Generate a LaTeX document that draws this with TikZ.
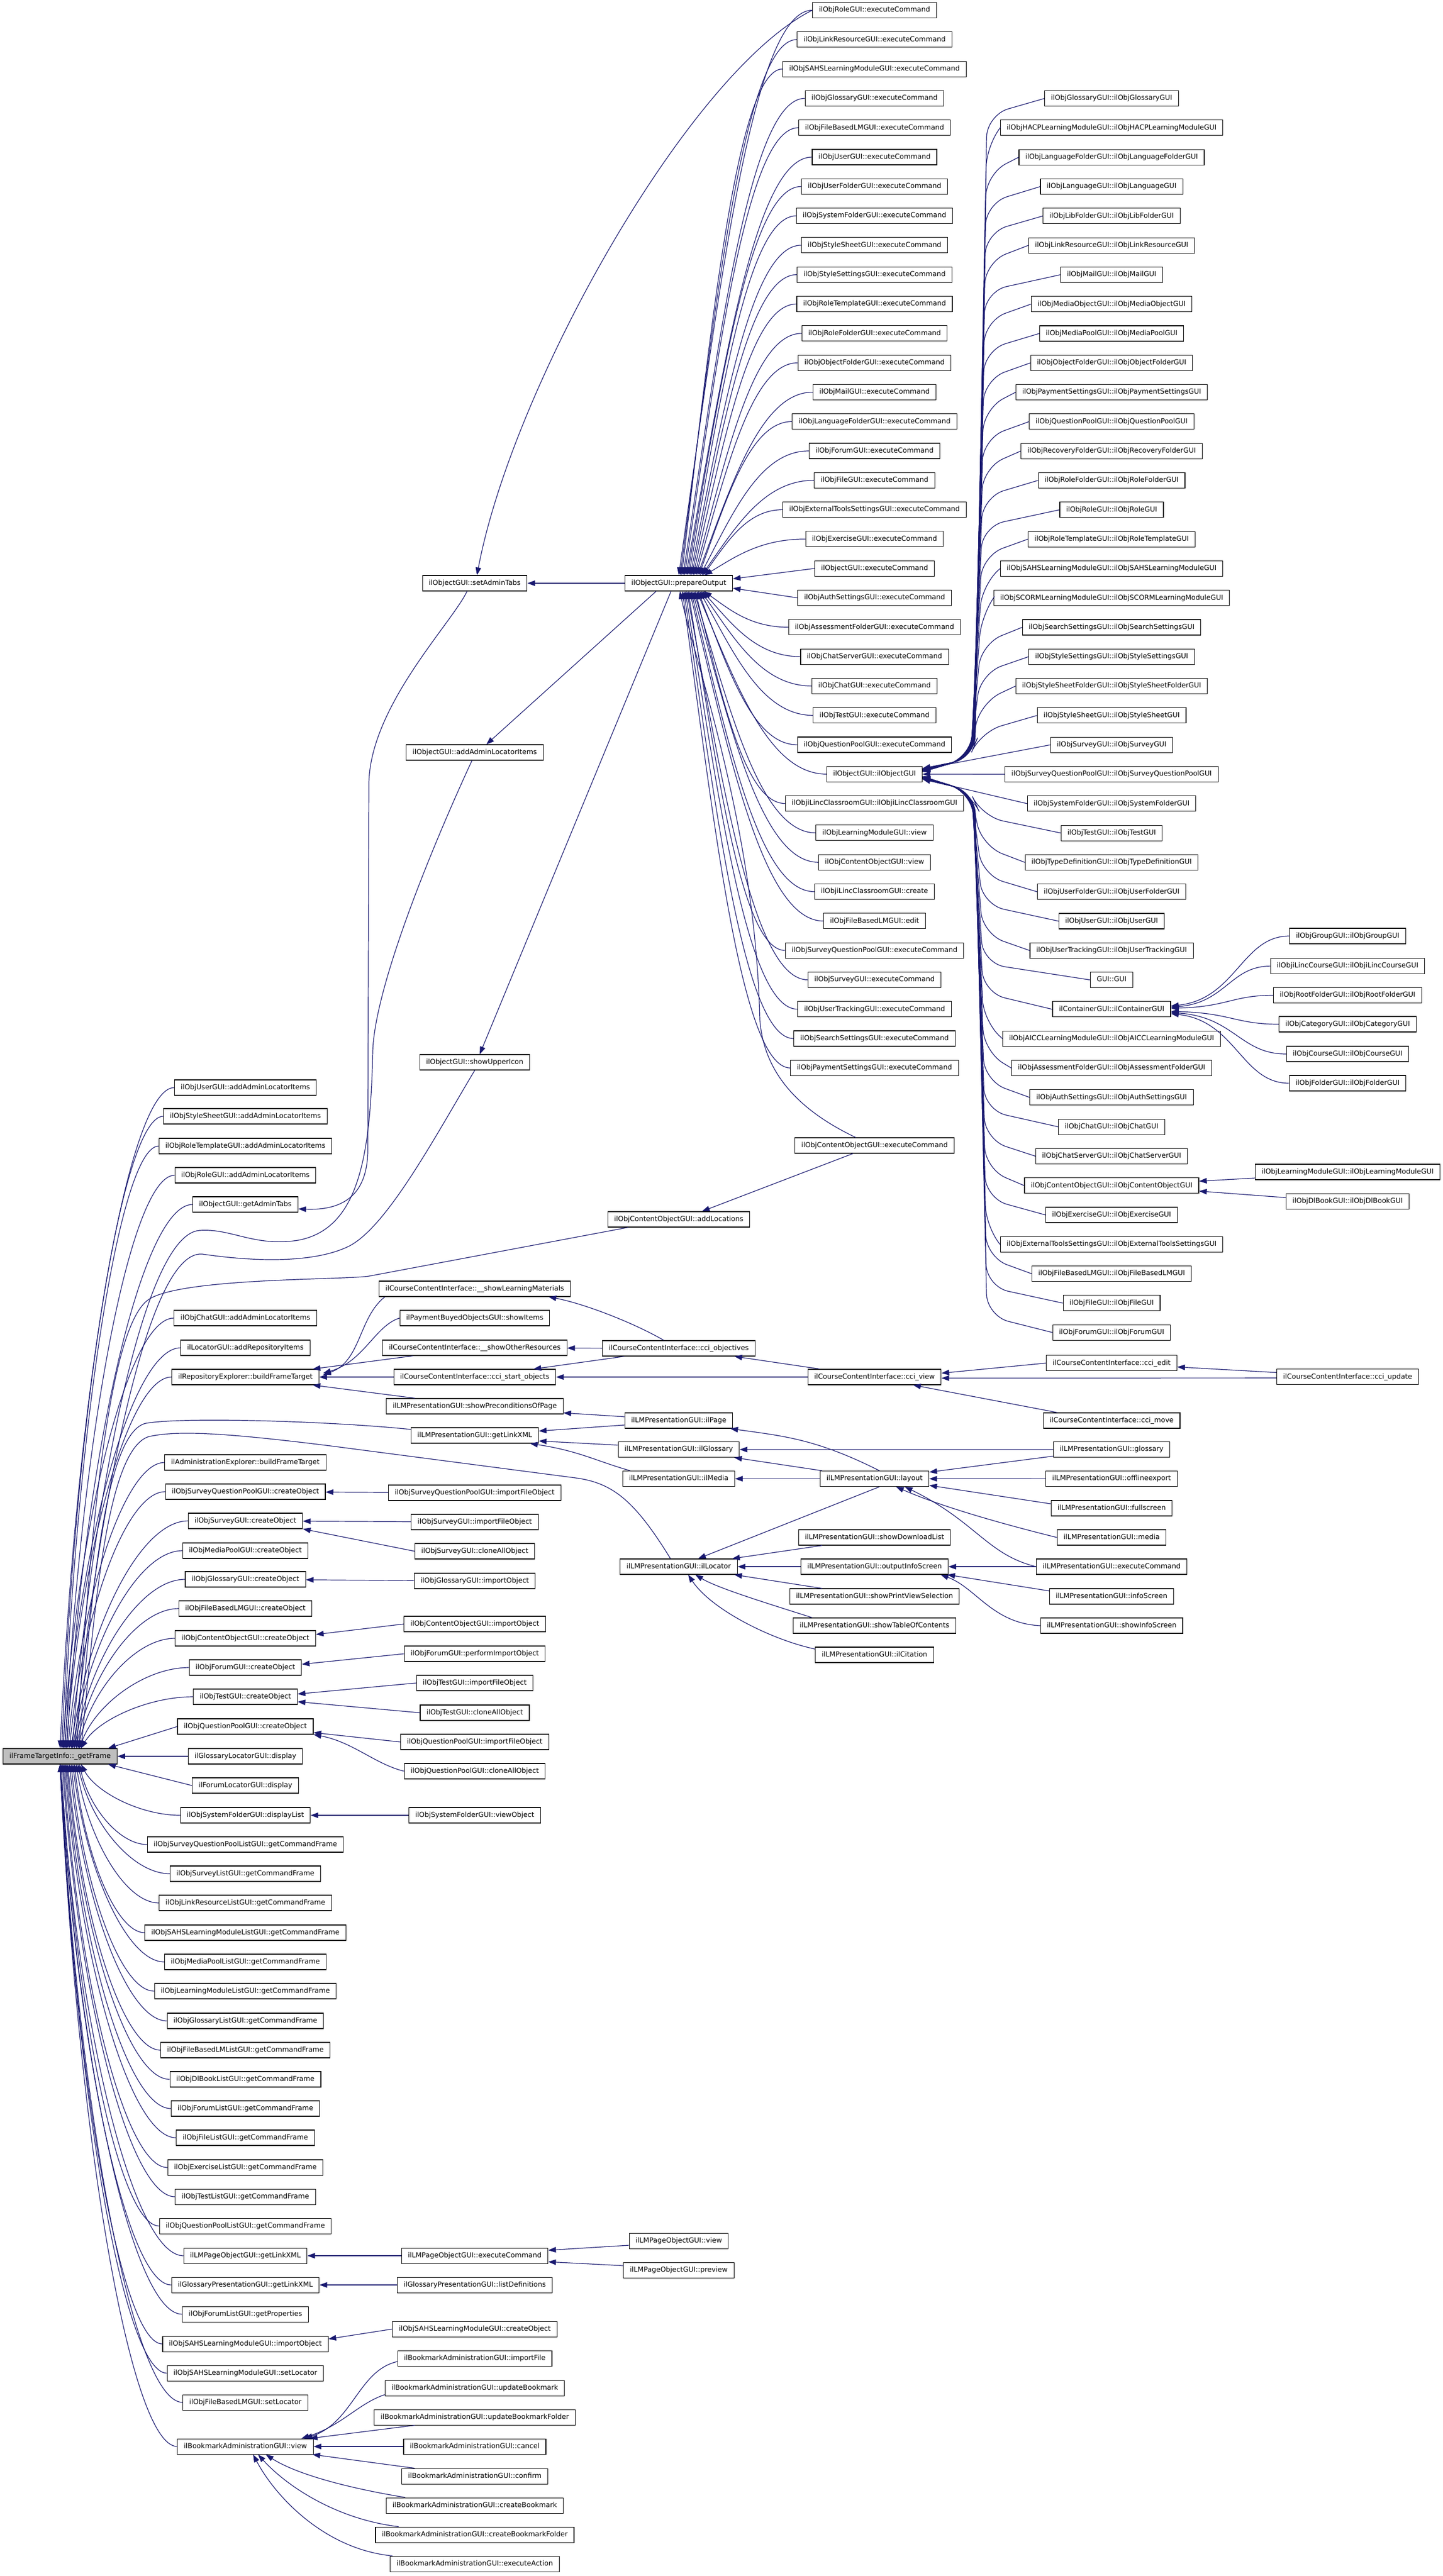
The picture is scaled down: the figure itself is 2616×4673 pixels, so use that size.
\documentclass[tikz,border=0pt]{standalone}
\usepackage{fontspec}
\setmainfont{DejaVu Sans}
\usetikzlibrary{arrows.meta,calc}
\definecolor{callblue}{HTML}{191970}
\tikzset{
  fnbox/.style={draw=black, line width=1.1pt, fill=white, font=\fontsize{12.6}{15}\selectfont,
    inner xsep=11.5pt, inner ysep=0pt, minimum height=28pt, text height=9.6pt, text depth=3pt},
  rootbox/.style={fnbox, fill=black!25},
  callline/.style={draw=callblue, line width=1.2pt, -{Triangle[length=14pt,width=10pt]}},
}
% caller.west -> point, leaves to the left, then bends onto the target
\newcommand{\calledge}[5]{%
  \draw[callline] let \p1=(#1.west), \p2=(#2) in
    (\p1) .. controls ({\x1-#3*(\x1-\x2)},\y1) and ({\x2+#4*(\x1-\x2)},{\y2+#5*(\y1-\y2)}) .. (\p2);}

\begin{document}
\begin{tikzpicture}[x=1pt, y=-1pt]
\fill[white] (0,0) rectangle (2616,4673);
\useasboundingbox (0,0) rectangle (2616,4673);

% the function itself
\node[rootbox] (gf) at (109,3186) {ilFrameTargetInfo::\_getFrame};

% direct callers
\foreach \n/\y/\t in {c1a/1973/ilObjUserGUI::addAdminLocatorItems,
  c1b/2025/ilObjStyleSheetGUI::addAdminLocatorItems,
  c1c/2079/ilObjRoleTemplateGUI::addAdminLocatorItems,
  c1d/2132/ilObjRoleGUI::addAdminLocatorItems,
  gat/2185/ilObjectGUI::getAdminTabs,
  c1e/2391/ilObjChatGUI::addAdminLocatorItems,
  lri/2445/ilLocatorGUI::addRepositoryItems,
  rebft/2498/ilRepositoryExplorer::buildFrameTarget,
  aebft/2653/ilAdministrationExplorer::buildFrameTarget,
  sqpco/2706/ilObjSurveyQuestionPoolGUI::createObject,
  svco/2759/ilObjSurveyGUI::createObject,
  mpco/2813/ilObjMediaPoolGUI::createObject,
  glco/2865/ilObjGlossaryGUI::createObject,
  fbco/2918/ilObjFileBasedLMGUI::createObject,
  coco/2972/ilObjContentObjectGUI::createObject,
  foco/3025/ilObjForumGUI::createObject,
  teco/3078/ilObjTestGUI::createObject,
  qpco/3132/ilObjQuestionPoolGUI::createObject,
  gldisp/3186/ilGlossaryLocatorGUI::display,
  fodisp/3239/ilForumLocatorGUI::display,
  sfdl/3293/ilObjSystemFolderGUI::displayList,
  cfsqp/3346/ilObjSurveyQuestionPoolListGUI::getCommandFrame,
  cfsv/3399/ilObjSurveyListGUI::getCommandFrame,
  cflr/3452/ilObjLinkResourceListGUI::getCommandFrame,
  cfsahs/3506/ilObjSAHSLearningModuleListGUI::getCommandFrame,
  cfmp/3559/ilObjMediaPoolListGUI::getCommandFrame,
  cflm/3612/ilObjLearningModuleListGUI::getCommandFrame,
  cfgl/3666/ilObjGlossaryListGUI::getCommandFrame,
  cffb/3719/ilObjFileBasedLMListGUI::getCommandFrame,
  cfdl/3772/ilObjDlBookListGUI::getCommandFrame,
  cffo/3825/ilObjForumListGUI::getCommandFrame,
  cffi/3878/ilObjFileListGUI::getCommandFrame,
  cfex/3932/ilObjExerciseListGUI::getCommandFrame,
  cfte/3985/ilObjTestListGUI::getCommandFrame,
  cfqp/4038/ilObjQuestionPoolListGUI::getCommandFrame,
  pglx/4092/ilLMPageObjectGUI::getLinkXML,
  gplx/4145/ilGlossaryPresentationGUI::getLinkXML,
  folp/4198/ilObjForumListGUI::getProperties,
  sahsio/4252/ilObjSAHSLearningModuleGUI::importObject,
  sahssl/4305/ilObjSAHSLearningModuleGUI::setLocator,
  fbsl/4358/ilObjFileBasedLMGUI::setLocator,
  bmview/4438/ilBookmarkAdministrationGUI::view}
  \node[fnbox] (\n) at (445,\y) {\t};

% second level
\foreach \n/\y/\t in {sat/1058/ilObjectGUI::setAdminTabs,
  aali/1365/ilObjectGUI::addAdminLocatorItems,
  sui/1927/ilObjectGUI::showUpperIcon,
  slm/2338/ilCourseContentInterface::\_\_showLearningMaterials,
  pbsi/2391/ilPaymentBuyedObjectsGUI::showItems,
  sor/2445/ilCourseContentInterface::\_\_showOtherResources,
  cso/2498/ilCourseContentInterface::cci\_start\_objects,
  spop/2551/ilLMPresentationGUI::showPreconditionsOfPage,
  lmlx/2604/ilLMPresentationGUI::getLinkXML,
  sqpif/2708/ilObjSurveyQuestionPoolGUI::importFileObject,
  svif/2761/ilObjSurveyGUI::importFileObject,
  svca/2814/ilObjSurveyGUI::cloneAllObject,
  glio/2868/ilObjGlossaryGUI::importObject,
  coio/2946/ilObjContentObjectGUI::importObject,
  fopi/3000/ilObjForumGUI::performImportObject,
  teif/3053/ilObjTestGUI::importFileObject,
  teca/3107/ilObjTestGUI::cloneAllObject,
  qpif/3160/ilObjQuestionPoolGUI::importFileObject,
  qpca/3213/ilObjQuestionPoolGUI::cloneAllObject,
  sfvo/3293/ilObjSystemFolderGUI::viewObject,
  pgec/4092/ilLMPageObjectGUI::executeCommand,
  gpld/4145/ilGlossaryPresentationGUI::listDefinitions,
  sahsco/4225/ilObjSAHSLearningModuleGUI::createObject,
  bm1/4278/ilBookmarkAdministrationGUI::importFile,
  bm2/4332/ilBookmarkAdministrationGUI::updateBookmark,
  bm3/4385/ilBookmarkAdministrationGUI::updateBookmarkFolder,
  bm4/4438/ilBookmarkAdministrationGUI::cancel,
  bm5/4492/ilBookmarkAdministrationGUI::confirm,
  bm6/4545/ilBookmarkAdministrationGUI::createBookmark,
  bm7/4598/ilBookmarkAdministrationGUI::createBookmarkFolder,
  bm8/4651/ilBookmarkAdministrationGUI::executeAction}
  \node[fnbox] (\n) at (861,\y) {\t};

% third level
\foreach \n/\y/\t in {prep/1058/ilObjectGUI::prepareOutput,
  coal/2212/ilObjContentObjectGUI::addLocations,
  ccio/2446/ilCourseContentInterface::cci\_objectives,
  lmpage/2577/ilLMPresentationGUI::ilPage,
  lmglos/2629.5/ilLMPresentationGUI::ilGlossary,
  lmmedia/2682.5/ilLMPresentationGUI::ilMedia,
  lmloc/2842/ilLMPresentationGUI::ilLocator,
  pgview/4065/ilLMPageObjectGUI::view,
  pgprev/4118/ilLMPageObjectGUI::preview}
  \node[fnbox] (\n) at (1231,\y) {\t};

% fourth level
\foreach \t [count=\k from 0] in {ilObjRoleGUI::executeCommand,
  ilObjLinkResourceGUI::executeCommand, ilObjSAHSLearningModuleGUI::executeCommand,
  ilObjGlossaryGUI::executeCommand, ilObjFileBasedLMGUI::executeCommand,
  ilObjUserGUI::executeCommand, ilObjUserFolderGUI::executeCommand,
  ilObjSystemFolderGUI::executeCommand, ilObjStyleSheetGUI::executeCommand,
  ilObjStyleSettingsGUI::executeCommand, ilObjRoleTemplateGUI::executeCommand,
  ilObjRoleFolderGUI::executeCommand, ilObjObjectFolderGUI::executeCommand,
  ilObjMailGUI::executeCommand, ilObjLanguageFolderGUI::executeCommand,
  ilObjForumGUI::executeCommand, ilObjFileGUI::executeCommand,
  ilObjExternalToolsSettingsGUI::executeCommand, ilObjExerciseGUI::executeCommand,
  ilObjectGUI::executeCommand, ilObjAuthSettingsGUI::executeCommand,
  ilObjAssessmentFolderGUI::executeCommand, ilObjChatServerGUI::executeCommand,
  ilObjChatGUI::executeCommand, ilObjTestGUI::executeCommand,
  ilObjQuestionPoolGUI::executeCommand, ilObjectGUI::ilObjectGUI,
  ilObjiLincClassroomGUI::ilObjiLincClassroomGUI, ilObjLearningModuleGUI::view,
  ilObjContentObjectGUI::view, ilObjiLincClassroomGUI::create,
  ilObjFileBasedLMGUI::edit, ilObjSurveyQuestionPoolGUI::executeCommand,
  ilObjSurveyGUI::executeCommand, ilObjUserTrackingGUI::executeCommand,
  ilObjSearchSettingsGUI::executeCommand, ilObjPaymentSettingsGUI::executeCommand}
  \node[fnbox] (ec\k) at (1586,{18.5+53.3*\k}) {\t};
\foreach \n/\y/\t in {coec/2078/ilObjContentObjectGUI::executeCommand,
  ccv/2498/ilCourseContentInterface::cci\_view,
  lay/2682.5/ilLMPresentationGUI::layout,
  sdl/2789/ilLMPresentationGUI::showDownloadList,
  ois/2842/ilLMPresentationGUI::outputInfoScreen,
  spvs/2896/ilLMPresentationGUI::showPrintViewSelection,
  stoc/2949/ilLMPresentationGUI::showTableOfContents,
  cit/3002/ilLMPresentationGUI::ilCitation}
  \node[fnbox] (\n) at (1586,\y) {\t};

% fifth level
\foreach \t [count=\k from 0] in {ilObjGlossaryGUI::ilObjGlossaryGUI,
  ilObjHACPLearningModuleGUI::ilObjHACPLearningModuleGUI,
  ilObjLanguageFolderGUI::ilObjLanguageFolderGUI, ilObjLanguageGUI::ilObjLanguageGUI,
  ilObjLibFolderGUI::ilObjLibFolderGUI, ilObjLinkResourceGUI::ilObjLinkResourceGUI,
  ilObjMailGUI::ilObjMailGUI, ilObjMediaObjectGUI::ilObjMediaObjectGUI,
  ilObjMediaPoolGUI::ilObjMediaPoolGUI, ilObjObjectFolderGUI::ilObjObjectFolderGUI,
  ilObjPaymentSettingsGUI::ilObjPaymentSettingsGUI,
  ilObjQuestionPoolGUI::ilObjQuestionPoolGUI,
  ilObjRecoveryFolderGUI::ilObjRecoveryFolderGUI,
  ilObjRoleFolderGUI::ilObjRoleFolderGUI, ilObjRoleGUI::ilObjRoleGUI,
  ilObjRoleTemplateGUI::ilObjRoleTemplateGUI,
  ilObjSAHSLearningModuleGUI::ilObjSAHSLearningModuleGUI,
  ilObjSCORMLearningModuleGUI::ilObjSCORMLearningModuleGUI,
  ilObjSearchSettingsGUI::ilObjSearchSettingsGUI,
  ilObjStyleSettingsGUI::ilObjStyleSettingsGUI,
  ilObjStyleSheetFolderGUI::ilObjStyleSheetFolderGUI,
  ilObjStyleSheetGUI::ilObjStyleSheetGUI, ilObjSurveyGUI::ilObjSurveyGUI,
  ilObjSurveyQuestionPoolGUI::ilObjSurveyQuestionPoolGUI,
  ilObjSystemFolderGUI::ilObjSystemFolderGUI, ilObjTestGUI::ilObjTestGUI,
  ilObjTypeDefinitionGUI::ilObjTypeDefinitionGUI,
  ilObjUserFolderGUI::ilObjUserFolderGUI, ilObjUserGUI::ilObjUserGUI,
  ilObjUserTrackingGUI::ilObjUserTrackingGUI, GUI::GUI,
  ilContainerGUI::ilContainerGUI,
  ilObjAICCLearningModuleGUI::ilObjAICCLearningModuleGUI,
  ilObjAssessmentFolderGUI::ilObjAssessmentFolderGUI,
  ilObjAuthSettingsGUI::ilObjAuthSettingsGUI, ilObjChatGUI::ilObjChatGUI,
  ilObjChatServerGUI::ilObjChatServerGUI,
  ilObjContentObjectGUI::ilObjContentObjectGUI, ilObjExerciseGUI::ilObjExerciseGUI,
  ilObjExternalToolsSettingsGUI::ilObjExternalToolsSettingsGUI,
  ilObjFileBasedLMGUI::ilObjFileBasedLMGUI, ilObjFileGUI::ilObjFileGUI,
  ilObjForumGUI::ilObjForumGUI}
  \node[fnbox] (ct\k) at (2016,{178.6+53.3*\k}) {\t};
\foreach \n/\y/\t in {cedit/2472.7/ilCourseContentInterface::cci\_edit,
  cmove/2577/ilCourseContentInterface::cci\_move,
  lpglos/2629.5/ilLMPresentationGUI::glossary,
  lpoff/2682.6/ilLMPresentationGUI::offlineexport,
  lpfull/2736/ilLMPresentationGUI::fullscreen,
  lpmedia/2789/ilLMPresentationGUI::media,
  lpexec/2842/ilLMPresentationGUI::executeCommand,
  lpinfo/2896/ilLMPresentationGUI::infoScreen,
  lpsinfo/2949/ilLMPresentationGUI::showInfoScreen}
  \node[fnbox] (\n) at (2016,\y) {\t};

% sixth level
\foreach \n/\y/\t in {grp/1698/ilObjGroupGUI::ilObjGroupGUI,
  ilc/1752.6/ilObjiLincCourseGUI::ilObjiLincCourseGUI,
  rootf/1805.5/ilObjRootFolderGUI::ilObjRootFolderGUI,
  cat/1858/ilObjCategoryGUI::ilObjCategoryGUI,
  crs/1912/ilObjCourseGUI::ilObjCourseGUI,
  fld/1965/ilObjFolderGUI::ilObjFolderGUI,
  lmc/2126/ilObjLearningModuleGUI::ilObjLearningModuleGUI,
  dlb/2179.5/ilObjDlBookGUI::ilObjDlBookGUI,
  cupd/2497.8/ilCourseContentInterface::cci\_update}
  \node[fnbox] (\n) at (2444,\y) {\t};

% calls into _getFrame
\foreach \nd/\s in {c1a/0,c1b/3,c1c/6,c1d/9,gat/12,c1e/5,lri/8,rebft/11,aebft/14,
  sqpco/17,svco/20,mpco/23,glco/26,fbco/29,coco/32,foco/35,teco/38}
  \calledge{\nd}{[xshift=\s]gf.north}{0.4}{0.15}{0.55};
\foreach \nd/\s in {sfdl/38,cfsqp/35,cfsv/32,cflr/29,cfsahs/26,cfmp/23,cflm/20,cfgl/17,
  cffb/14,cfdl/12,cffo/10,cffi/8,cfex/6,cfte/4,cfqp/2,pglx/0,gplx/0,folp/0,sahsio/0,
  sahssl/0,fbsl/0,bmview/0}
  \calledge{\nd}{[xshift=\s]gf.south}{0.4}{0.15}{0.55};
\draw[callline] (gldisp) -- (gf);
\draw[callline] (qpco.west) -- ([xshift=-17]gf.north east);
\draw[callline] (fodisp.west) -- ([xshift=-17]gf.south east);
\draw[callline] ([xshift=-5]aali.south) .. controls (800,1500) and (680,1780) .. (676,1907)
  .. controls (672,2100) and (650,2230) .. (540,2250) .. controls (460,2262) and (420,2228) .. (362,2232)
  .. controls (250,2240) and (160,2800) .. ([xshift=22]gf.north);
\draw[callline] (sui.south) .. controls (790,2060) and (700,2230) .. (630,2262)
  .. controls (570,2290) and (470,2290) .. (367,2275) .. controls (260,2265) and (170,2800) .. ([xshift=26]gf.north);
\draw[callline] ([xshift=-92]coal.south) -- (669,2315) .. controls (620,2322) and (330,2318) .. (270,2357)
  .. controls (190,2410) and (160,2850) .. ([xshift=30]gf.north);
\draw[callline] ([yshift=11]lmlx.west) .. controls (600,2578) and (330,2570) .. (264,2582)
  .. controls (190,2600) and (165,2900) .. ([xshift=34]gf.north);
\draw[callline] ([xshift=-15]lmloc.north) .. controls (1150,2720) and (1110,2690) .. (1044,2681) -- (600,2623)
  .. controls (400,2598) and (320,2595) .. (270,2606) .. controls (190,2630) and (170,2950) .. ([xshift=38]gf.north);

% admin tabs and prepareOutput
\draw[callline] (ec0.west) .. controls (1250,130) and (930,700) .. ([xshift=4]sat.north);
\draw[callline] ([xshift=-14]sat.south) .. controls (820,1130) and (672,1280) .. (669,1420) -- (667,2090)
  .. controls (665,2170) and (620,2196) .. ([yshift=-8]gat.east);
\draw[callline] (prep) -- (sat);
\draw[callline] ([xshift=-41]prep.south) -- ([xshift=21]aali.north);
\draw[callline] ([xshift=-14]prep.south) -- ([xshift=9]sui.north);
\foreach \k in {0,...,18}
  \calledge{ec\k}{[xshift={2.6*\k}]prep.north}{0.45}{0.3}{0.5};
\draw[callline] (ec19.west) -- ([yshift=8]prep.east);
\draw[callline] (ec20.west) -- ([yshift=-9]prep.east);
\foreach \k in {21,...,36}
  \calledge{ec\k}{[xshift={2.6*(37-\k)+4}]prep.south}{0.45}{0.3}{0.5};
\draw[callline] ([xshift=-34]coec.north) .. controls (1440,2010) and (1385,1940) .. (1378,1850)
  .. controls (1370,1500) and (1260,1200) .. ([xshift=2]prep.south);

% constructors
\foreach \k in {0,...,21}
  \draw[callline, rounded corners=40pt] (ct\k.west) -- ({1790-0.6*\k},{178.6+53.3*\k+30})
    -- ({1768-0.5*\k},1375) -- ([yshift={4+0.3*(21-\k)}]ec26.east);
\draw[callline] (ct22.west) -- ([yshift=9]ec26.east);
\draw[callline] (ct23) -- (ec26);
\draw[callline] (ct24.west) -- ([yshift=-9]ec26.east);
\foreach \k in {25,...,42}
  \draw[callline, rounded corners=40pt] (ct\k.west) -- ({1790-0.6*(42-\k)},{178.6+53.3*\k-30})
    -- ({1768-0.5*(42-\k)},1436) -- ([yshift={-4-0.3*(\k-25)}]ec26.east);
\foreach \nd/\s in {grp/6,ilc/4,rootf/2,cat/-4,crs/-6,fld/-8}
  \calledge{\nd}{[yshift=\s]ct31.east}{0.4}{0.55}{0.1};
\draw[callline] ([yshift=-11]lmc.west) -- ([yshift=8]ct37.east);
\draw[callline] ([yshift=7]dlb.west) -- ([yshift=-10]ct37.east);
\draw[callline] ([xshift=-39]coec.south) -- ([xshift=42]coal.north);

% course content interface
\draw[callline] ([xshift=-163]slm.south) .. controls (650,2390) and (655,2470) .. ([xshift=7,yshift=4]rebft.east);
\draw[callline] (pbsi.west) .. controls (680,2405) and (660,2470) .. ([xshift=7,yshift=7]rebft.east);
\draw[callline] ([xshift=-112]sor.south) -- ([xshift=-12]rebft.north east);
\draw[callline] (cso) -- (rebft);
\draw[callline] ([xshift=-108]spop.north) -- ([xshift=-12]rebft.south east);
\draw[callline] ([xshift=-27]ccio.north) .. controls (1150,2400) and (1060,2365) .. ([xshift=-40]slm.south east);
\draw[callline] (ccio) -- (sor);
\draw[callline] ([xshift=-99]ccio.south) -- ([xshift=-41]cso.north east);
\draw[callline] ([xshift=-99]ccv.north) -- ([xshift=-38]ccio.south east);
\draw[callline] (ccv) -- (cso);
\draw[callline] (cedit.west) -- ([yshift=7]ccv.east);
\draw[callline] ([yshift=-2]cupd.west) -- ([yshift=-2]ccv.east);
\draw[callline] ([xshift=-98]cmove.north) -- ([xshift=70]ccv.south);
\draw[callline] ([yshift=8]cupd.west) -- ([yshift=-7]cedit.east);

% learning module presentation
\draw[callline] ([yshift=7]lmpage.west) -- ([yshift=-12]spop.east);
\draw[callline] ([yshift=-8]lmpage.west) -- ([yshift=8]lmlx.east);
\draw[callline] ([yshift=8]lmglos.west) -- ([yshift=-10]lmlx.east);
\draw[callline] ([xshift=-88]lmmedia.north) .. controls (1080,2650) and (1050,2632) .. ([xshift=-16]lmlx.south east);
\draw[callline] ([xshift=9]lay.north) .. controls (1480,2610) and (1420,2605) .. ([xshift=-5]lmpage.south east);
\draw[callline] ([xshift=-95]lay.north) -- ([xshift=-10]lmglos.south east);
\draw[callline] (lay) -- (lmmedia);
\draw[callline] (lpglos) -- (lmglos);
\draw[callline] ([yshift=-12]lpglos.west) -- ([yshift=12]lay.east);
\draw[callline] (lpoff) -- (lay);
\draw[callline] ([yshift=8]lpfull.west) -- ([yshift=-12]lay.east);
\draw[callline] (lpmedia.west) .. controls (1800,2760) and (1700,2730) .. ([xshift=39]lay.south);
\draw[callline] (lpexec.west) .. controls (1790,2820) and (1770,2760) .. ([xshift=55]lay.south);
\draw[callline] ([xshift=9]lay.south) -- ([xshift=35]lmloc.north);
\draw[callline] ([xshift=-95]sdl.south) -- ([xshift=-10]lmloc.north east);
\draw[callline] (ois) -- (lmloc);
\draw[callline] ([xshift=-95]spvs.north) -- ([xshift=-6]lmloc.south east);
\draw[callline] ([xshift=-113]stoc.north) .. controls (1380,2905) and (1300,2880) .. ([xshift=30]lmloc.south);
\draw[callline] ([yshift=-4]cit.north west) .. controls (1400,2975) and (1290,2920) .. ([xshift=17]lmloc.south);
\draw[callline] (lpexec) -- (ois);
\draw[callline] ([yshift=10]lpinfo.west) -- ([xshift=-2]ois.south east);
\draw[callline] (lpsinfo.west) .. controls (1800,2945) and (1770,2880) .. ([xshift=-14]ois.south east);

% object creation and import
\draw[callline] (sqpif) -- (sqpco);
\draw[callline] (svif) -- (svco);
\draw[callline] (svca.west) -- (svco.south east);
\draw[callline] (glio) -- (glco);
\draw[callline] (coio.west) -- ([yshift=7]coco.east);
\draw[callline] (fopi.west) -- ([yshift=6]foco.east);
\draw[callline] (teif.west) -- ([yshift=5]teco.east);
\draw[callline] (teca.west) -- ([yshift=-9]teco.east);
\draw[callline] (qpif.west) -- ([yshift=-11]qpco.east);
\draw[callline] (qpca.west) .. controls (680,3200) and (640,3160) .. (qpco.south east);
\draw[callline] (sfvo) -- (sfdl);
\draw[callline] (pgec) -- (pglx);
\draw[callline] (gpld) -- (gplx);
\draw[callline] (sahsco.west) -- ([yshift=9]sahsio.east);
\draw[callline] ([yshift=-8]pgview.west) -- ([yshift=10]pgec.east);
\draw[callline] ([yshift=8]pgprev.west) -- ([yshift=-11]pgec.east);

% bookmarks
\draw[callline] ([yshift=-6]bm1.west) .. controls (650,4300) and (640,4395) .. ([xshift=-16]bmview.north east);
\draw[callline] ([yshift=-12]bm2.west) .. controls (650,4360) and (620,4400) .. ([xshift=-22]bmview.north east);
\draw[callline] ([xshift=-109]bm3.south) -- ([xshift=-7]bmview.north east);
\draw[callline] (bm4) -- (bmview);
\draw[callline] ([xshift=-109]bm5.north) -- ([xshift=-2]bmview.south east);
\draw[callline] ([xshift=-126]bm6.north) .. controls (640,4515) and (540,4490) .. ([xshift=37]bmview.south);
\draw[callline] ([xshift=-138]bm7.north) .. controls (610,4570) and (520,4510) .. ([xshift=23]bmview.south);
\draw[callline] ([xshift=-149]bm8.north) .. controls (590,4625) and (500,4530) .. ([xshift=14]bmview.south);
\end{tikzpicture}
\end{document}
